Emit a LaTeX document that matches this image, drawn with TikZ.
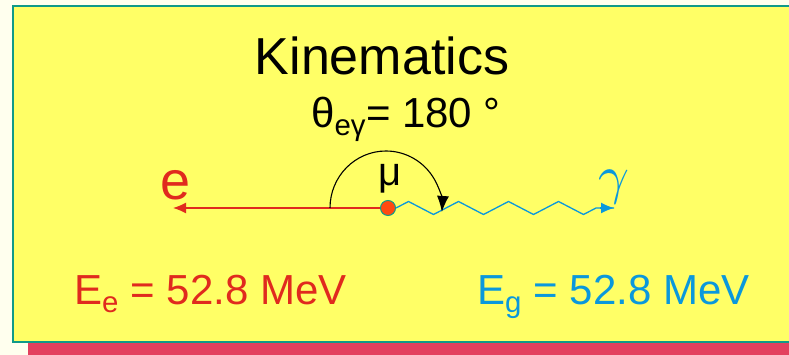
\documentclass[tikz,border=0pt]{standalone}
\usepackage{fontspec}
\setmainfont{Liberation Sans}
\usetikzlibrary{calc, arrows.meta, decorations.pathmorphing}
\definecolor{cream}{HTML}{FFFFEE}
\definecolor{boxyellow}{HTML}{FFFF66}
\definecolor{boxteal}{HTML}{109A88}
\definecolor{barred}{HTML}{E3405E}
\definecolor{ered}{HTML}{E02A1E}
\definecolor{gblue}{HTML}{0A98DC}
\definecolor{mudot}{HTML}{FF4A10}
\tikzset{
  bigtext/.style={font=\fontsize{42}{46}\selectfont, inner sep=0pt},
  photon/.style={gblue, line width=1.3pt, decorate,
    decoration={zigzag, segment length=50pt, amplitude=6.5pt, post length=14pt}}
}

\begin{document}
\begin{tikzpicture}[x=1pt, y=1pt]
  \useasboundingbox (0,0) rectangle (789,355);
  % Background
  \fill[cream] (0,0) rectangle (789,355);
  \fill[barred] (28,0) rectangle (789,13);
  \draw[boxteal, line width=1.5pt, fill=boxyellow] (13,13) rectangle (795,349);
  % Titel
  \node[font=\fontsize{52}{56}\selectfont, inner sep=0pt, anchor=base] (title) at (382,280) {Kinematics};
  \node[bigtext, anchor=base] (angle) at (406,227) {θ\textsubscript{eγ}= 180 °};
  % Zerfall
  \node[circle, draw=boxteal, fill=mudot, line width=1pt, minimum size=15pt, inner sep=0pt] (mu) at (388,147) {};
  \coordinate (etip) at (173,147);
  \coordinate (gtip) at (614,147);
  \draw[ered, line width=1.3pt, -{Latex[length=13pt, width=11pt]}] (mu.west) -- (etip);
  \draw[photon] (mu.east) -- (gtip);
  \draw[gblue, line width=1.3pt, -{Latex[length=13pt, width=11pt]}] ($(gtip)+(-14,0)$) -- (gtip);
  % Winkel
  \draw[black, line width=1.1pt, -{Latex[length=16pt, width=12pt]}] (330,147) arc[start angle=180, end angle=-4, x radius=56, y radius=57];
  % Labels
  \node[ered, font=\fontsize{54}{58}\selectfont, inner sep=0pt, anchor=base] (elab) at (176,155) {e};
  \node[gblue, scale=5.4, inner sep=0pt] (glab) at (614,168) {$\gamma$};
  \node[font=\fontsize{40}{44}\selectfont, inner sep=0pt] (mulab) at (390,176) {μ};
  % Energien
  \node[bigtext, ered, anchor=base west] (Ee) at (74,50) {E\textsubscript{e} = 52.8 MeV};
  \node[bigtext, gblue, anchor=base west] (Eg) at (477,50) {E\textsubscript{g} = 52.8 MeV};
\end{tikzpicture}
\end{document}
